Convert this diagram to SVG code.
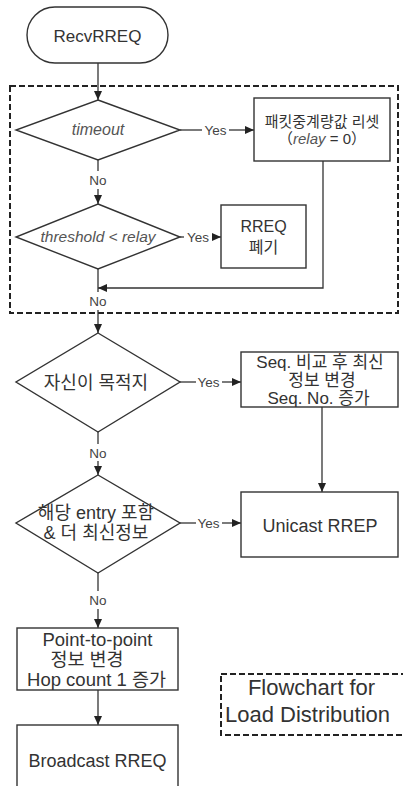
<svg xmlns="http://www.w3.org/2000/svg" width="403" height="786" viewBox="0 0 403 786">
<style>
text{font-family:"Liberation Sans","Noto Sans CJK KR",sans-serif;fill:#333;text-anchor:middle}
.node{fill:#fff;stroke:#333;stroke-width:1.4}
.dash{fill:none;stroke:#222;stroke-width:2;stroke-dasharray:6 3}
.ln{fill:none;stroke:#333;stroke-width:1.3}
.arr{marker-end:url(#ah)}
.lbl{font-size:13.5px;fill:#444}
.it{font-style:italic;fill:#555}
</style>
<defs>
<marker id="ah" markerUnits="userSpaceOnUse" markerWidth="10" markerHeight="8" refX="9" refY="4" orient="auto">
<path d="M0,0 L9,4 L0,8 z" fill="#222"/>
</marker>
</defs>
<rect id="group-box" class="dash" x="10" y="86" width="388" height="227"/>
<g id="connectors">
<line class="ln arr" x1="98" y1="63" x2="98" y2="100"/>
<line class="ln" x1="180" y1="130" x2="202" y2="130"/>
<text class="lbl" x="215.5" y="135">Yes</text>
<line class="ln arr" x1="229" y1="130" x2="254" y2="130"/>
<line class="ln" x1="98" y1="160" x2="98" y2="171"/>
<text class="lbl" x="98" y="185">No</text>
<line class="ln arr" x1="98" y1="189" x2="98" y2="204"/>
<line class="ln" x1="180" y1="237" x2="184" y2="237"/>
<text class="lbl" x="198" y="242">Yes</text>
<line class="ln arr" x1="212" y1="237" x2="221" y2="237"/>
<polyline class="ln arr" points="323,161 323,288 98,288"/>
<line class="ln" x1="98" y1="269" x2="98" y2="292"/>
<text class="lbl" x="98" y="306">No</text>
<line class="ln arr" x1="98" y1="310" x2="98" y2="333"/>
<line class="ln" x1="180" y1="382" x2="196" y2="382"/>
<text class="lbl" x="208.5" y="387">Yes</text>
<line class="ln arr" x1="222" y1="382" x2="241" y2="382"/>
<line class="ln arr" x1="322" y1="407" x2="322" y2="492"/>
<line class="ln" x1="98" y1="432" x2="98" y2="444"/>
<text class="lbl" x="98" y="458">No</text>
<line class="ln arr" x1="98" y1="461" x2="98" y2="475"/>
<line class="ln" x1="180" y1="523" x2="196" y2="523"/>
<text class="lbl" x="208.5" y="528">Yes</text>
<line class="ln arr" x1="222" y1="523" x2="241" y2="523"/>
<line class="ln" x1="98" y1="573" x2="98" y2="591"/>
<text class="lbl" x="98" y="605">No</text>
<line class="ln arr" x1="98" y1="609" x2="98" y2="628"/>
<line class="ln arr" x1="98" y1="690" x2="98" y2="725"/>
</g>
<g id="start">
<rect class="node" x="27" y="7" width="141" height="56" rx="28"/>
<text x="97.5" y="42" font-size="17">RecvRREQ</text>
</g>
<g id="timeout">
<polygon class="node" points="98,100 180,130 98,160 16,130"/>
<text class="it" x="98" y="135" font-size="16">timeout</text>
</g>
<g id="reset">
<rect class="node" x="254" y="98" width="136" height="63"/>
<text x="322" y="127" font-size="15">패킷중계량값 리셋</text>
<text x="322" y="144" font-size="15">（<tspan class="it">relay</tspan> = 0）</text>
</g>
<g id="threshold">
<polygon class="node" points="98,204 180,237 98,269 16,237"/>
<text class="it" x="98" y="242" font-size="15.5">threshold &lt; relay</text>
</g>
<g id="discard">
<rect class="node" x="221" y="205" width="85" height="63"/>
<text x="263.5" y="232" font-size="16">RREQ</text>
<text x="263.5" y="253" font-size="16">폐기</text>
</g>
<g id="dest">
<polygon class="node" points="98,333 180,382 98,432 16,382"/>
<text x="96" y="389" font-size="18">자신이 목적지</text>
</g>
<g id="seq">
<rect class="node" x="241" y="352" width="157" height="55"/>
<text x="320" y="368" font-size="17">Seq. 비교 후 최신</text>
<text x="322" y="386" font-size="17">정보 변경</text>
<text x="318.5" y="404" font-size="17">Seq. No. 증가</text>
</g>
<g id="entry">
<polygon class="node" points="98,475 180,523 98,573 16,523"/>
<text x="96" y="519" font-size="18">해당 entry 포함</text>
<text x="96" y="539" font-size="18">&amp; 더 최신정보</text>
</g>
<g id="unicast">
<rect class="node" x="241" y="492" width="157" height="65"/>
<text x="320" y="532" font-size="18">Unicast RREP</text>
</g>
<g id="p2p">
<rect class="node" x="17" y="628" width="161" height="62"/>
<text x="97.5" y="646" font-size="18.5">Point-to-point</text>
<text x="87" y="666" font-size="18.5">정보 변경</text>
<text x="96.5" y="686" font-size="18.5">Hop count 1 증가</text>
</g>
<g id="broadcast">
<rect class="node" x="17" y="725" width="161" height="70"/>
<text x="97.5" y="767" font-size="18">Broadcast RREQ</text>
</g>
<g id="legend">
<rect class="dash" x="221" y="674" width="186" height="61"/>
<text x="311.5" y="695" font-size="22">Flowchart for</text>
<text x="307.5" y="722" font-size="22">Load Distribution</text>
</g>
</svg>
